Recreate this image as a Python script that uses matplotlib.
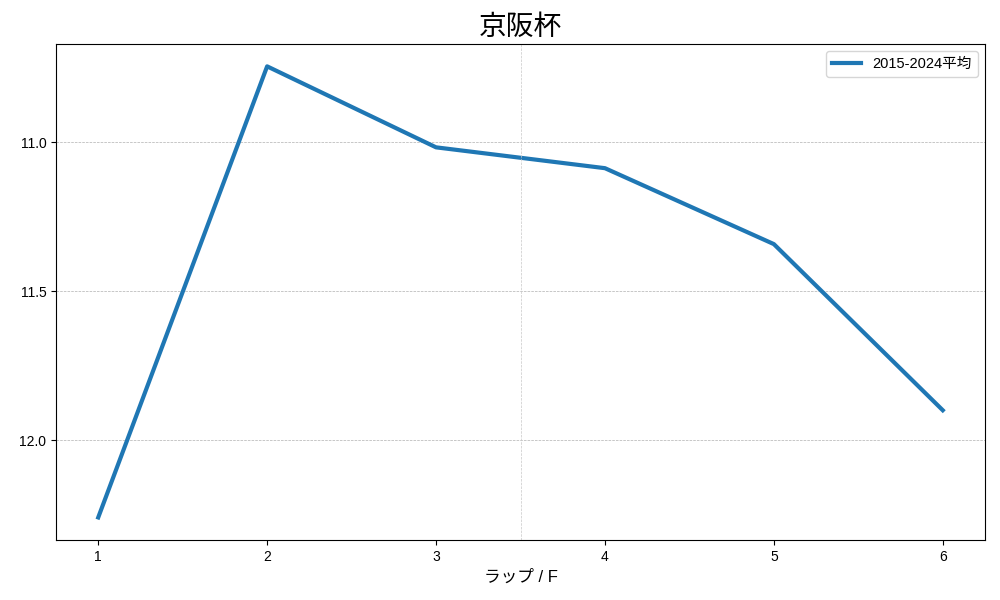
import matplotlib
matplotlib.use("Agg")
import matplotlib.pyplot as plt

plt.rcParams["font.family"] = ["Liberation Sans", "Noto Sans CJK JP", "DejaVu Sans"]

laps = [1, 2, 3, 4, 5, 6]
avg_times = [12.26, 10.745, 11.017, 11.087, 11.342, 11.90]
series_label = "2015-2024平均"
title = "京阪杯"
xlabel = "ラップ / F"
split_x = 3.5

fig, ax = plt.subplots(figsize=(10, 6), dpi=100)
ax.plot(laps, avg_times, color="#1f77b4", lw=3, label=series_label)
ax.invert_yaxis()
ax.set_yticks([11.0, 11.5, 12.0])
ax.set_xticks(laps)
ax.grid(axis="y", ls="--", lw=0.5, color="#b0b0b0")
ax.axvline(split_x, ls="--", lw=0.5, color="#c8c8c8")
ax.set_title(title, fontsize=20)
ax.set_xlabel(xlabel, fontsize=12)
ax.legend(loc="upper right", fontsize=10.5)
fig.subplots_adjust(left=0.056, right=0.985, top=0.927, bottom=0.1)
fig.savefig("out.png")
